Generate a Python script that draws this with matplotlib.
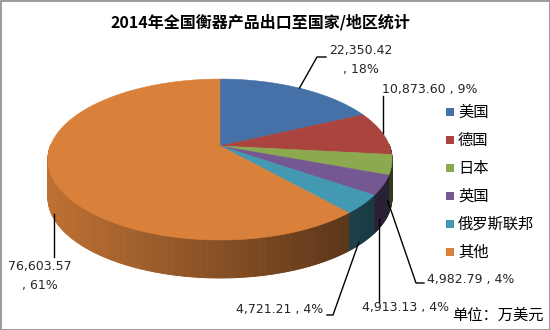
import matplotlib.pyplot as plt
import numpy as np
from matplotlib.patches import Polygon, Rectangle
from matplotlib.collections import PolyCollection

plt.rcParams['font.family'] = ['Noto Sans CJK SC', 'DejaVu Sans']

title = "2014年全国衡器产品出口至国家/地区统计"
names = ["美国", "德国", "日本", "英国", "俄罗斯联邦", "其他"]
values = [22350.42, 10873.60, 4982.79, 4913.13, 4721.21, 76603.57]
pct_text = ["18%", "9%", "4%", "4%", "4%", "61%"]
colors = ["#4571A8", "#A9443F", "#8CA94F", "#735891", "#4299B1", "#D9803A"]
unit_text = "单位：万美元"

# pseudo 3d geometry (pixel space)
CX, CY = 220, 146
RX, RY = 169.6, 78.2
K = 0.168
DEPTH = 38


def proj(theta):
    t = np.radians(theta)
    u, v = np.cos(t), np.sin(t)
    d = 1 + K * v
    return CX + RX * u / d, CY - RY * v / d


def shade(c, x):
    f = 0.88 - 0.53 * (x - 48) / 344.0
    f = min(max(f, 0.3), 0.95)
    r, g, b = [int(c[i:i + 2], 16) / 255.0 for i in (1, 3, 5)]
    return (r * f, g * f, b * f)


fig = plt.figure(figsize=(5.5, 3.3), dpi=100)
ax = fig.add_axes([0, 0, 1, 1])
ax.set_xlim(0, 550)
ax.set_ylim(330, 0)
ax.axis("off")

total = float(sum(values))
start = 90.0
spans = []
for v in values:
    end = start - v / total * 360.0
    spans.append((start, end))
    start = end

# sides
quads, qcols = [], []
for (s, e), c in zip(spans, colors):
    n = max(int(abs(s - e) / 0.5), 2)
    th = np.linspace(s, e, n + 1)
    for t1, t2 in zip(th[:-1], th[1:]):
        mid = 0.5 * (t1 + t2)
        if np.sin(np.radians(mid)) > 0.02:
            continue
        x1, y1 = proj(t1)
        x2, y2 = proj(t2)
        quads.append([(x1, y1), (x2, y2), (x2, y2 + DEPTH), (x1, y1 + DEPTH)])
        qcols.append(shade(c, 0.5 * (x1 + x2)))
pc = PolyCollection(quads, facecolors=qcols, edgecolors=qcols, linewidths=0.6)
ax.add_collection(pc)

# tops
for (s, e), c in zip(spans, colors):
    th = np.linspace(s, e, 200)
    xs, ys = proj(th)
    pts = [(CX, CY)] + list(zip(xs, ys))
    ax.add_patch(Polygon(pts, closed=True, facecolor=c, edgecolor=c, lw=0.4))

# labels with leader lines
mids = [0.5 * (s + e) for s, e in spans]
anchors = []
for i, m in enumerate(mids):
    x, y = proj(m)
    if np.sin(np.radians(m)) < 0:
        y += DEPTH
    anchors.append((x, y))

num = ["{:,.2f}".format(v) for v in values]
lab_kw = dict(fontsize=9, family="DejaVu Sans", color="#262626")
lc = dict(color="black", lw=1)

ax.plot([anchors[0][0], 317, 326], [anchors[0][1], 57, 57], **lc)
ax.text(361, 60, num[0] + "\n, " + pct_text[0], ha="center", va="center",
        linespacing=1.65, **lab_kw)

ax.plot([anchors[1][0], anchors[1][0]], [anchors[1][1], 96], **lc)
ax.text(382, 90, num[1] + " , " + pct_text[1], ha="left", va="center", **lab_kw)

ax.plot([anchors[2][0] - 4, 416, 424], [anchors[2][1] - 2, 283, 283], **lc)
ax.text(427, 279, num[2] + " , " + pct_text[2], ha="left", va="center", **lab_kw)

ax.plot([anchors[3][0] - 4, anchors[3][0] - 4], [anchors[3][1] - 4, 302], **lc)
ax.text(362, 308, num[3] + " , " + pct_text[3], ha="left", va="center", **lab_kw)

ax.plot([anchors[4][0] - 4, 333, 327], [anchors[4][1], 315, 315], **lc)
ax.text(323, 309, num[4] + " , " + pct_text[4], ha="right", va="center", **lab_kw)

ax.plot([anchors[5][0] + 3, anchors[5][0] + 3], [anchors[5][1], 257], **lc)
ax.text(40, 276, num[5] + "\n, " + pct_text[5], ha="center", va="center",
        linespacing=1.65, **lab_kw)

# legend
for i, (nm, c) in enumerate(zip(names, colors)):
    y = 112 + i * 28
    ax.add_patch(Rectangle((446, y - 4), 8, 8, facecolor=c, edgecolor="none"))
    ax.text(458, y, nm, ha="left", va="center", fontsize=11, color="black")

ax.text(452, 315, unit_text, ha="left", va="center", fontsize=11, color="black")
ax.text(260, 22, title, ha="center", va="center", fontsize=11.5,
        fontweight="bold", color="black")

ax.add_patch(Rectangle((0.5, 0.5), 549, 329, facecolor="none",
                       edgecolor="#8a8a8a", lw=1.2))

fig.savefig("out.png", dpi=100)
